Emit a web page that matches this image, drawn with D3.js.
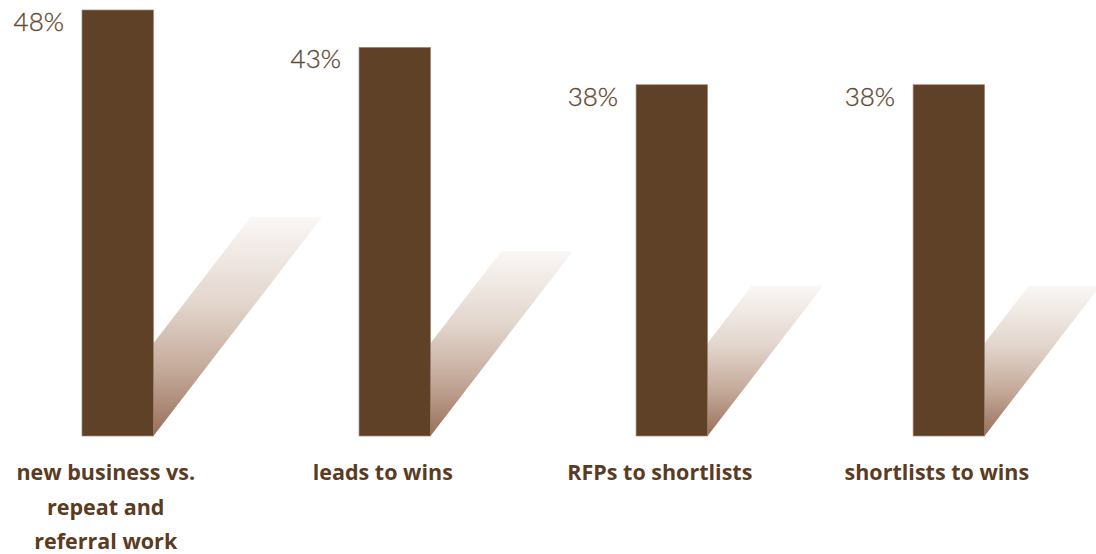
<!DOCTYPE html>
<html>
<head>
<meta charset="utf-8">
<script src="https://cdn.jsdelivr.net/npm/d3@7"></script>
<style>
  html, body { margin: 0; padding: 0; background: #ffffff; }
  svg { display: block; }
</style>
</head>
<body>
<svg id="chart" width="1096" height="554"></svg>
<script>
// Conversion rates by stage
const categories = [
  ["new business vs.", "repeat and", "referral work"],
  ["leads to wins"],
  ["RFPs to shortlists"],
  ["shortlists to wins"]
];
const values = [48, 43, 38, 38];
const valueLabels = ["48%", "43%", "38%", "38%"];

const W = 1096, H = 554;
const svg = d3.select("#chart");

const barColor = "#5e4127";
const valueColor = "#654833";
const catColor = "#5b3b22";

const x = d3.scaleBand()
  .domain(d3.range(values.length))
  .range([82, 984.6])
  .paddingInner(0.742)
  .paddingOuter(0);

const y = d3.scaleLinear()
  .domain([-9, 48])
  .range([436, 10]);

const base = y.range()[0];
const bw = x.bandwidth();
const slant = 0.77;           // horizontal run per vertical px of the cast shadow

// gradient for the cast shadows: warm brown at the foot, fading to white
const defs = svg.append("defs");
const grad = defs.append("linearGradient")
  .attr("id", "shadowGrad")
  .attr("x1", 0).attr("y1", 1).attr("x2", 0).attr("y2", 0);
[
  [0, "#98705a"],
  [0.3, "#c4a999"],
  [0.6, "#e2d5cc"],
  [1, "#faf7f5"]
].forEach(([o, c]) => grad.append("stop").attr("offset", o).attr("stop-color", c));

// cast shadows drawn first so each bar sits on top
svg.append("g").selectAll("path")
  .data(values)
  .join("path")
  .attr("fill", "url(#shadowGrad)")
  .attr("d", (d, i) => {
    const h = base - y(d);
    const sh = 0.92 * h - 173;
    const left = x(i), right = x(i) + bw;
    const top = base - sh;
    return d3.line()([
      [left, base],
      [right, base],
      [right + slant * sh, top],
      [left + slant * sh, top]
    ]) + "Z";
  });

// bars
svg.append("g").selectAll("rect")
  .data(values)
  .join("rect")
  .attr("x", (d, i) => x(i))
  .attr("y", d => y(d))
  .attr("width", bw)
  .attr("height", d => base - y(d))
  .attr("fill", barColor)
  .attr("stroke", "#a48570")
  .attr("stroke-width", 0.7);

// value labels, to the left of each bar top
svg.append("g").selectAll("text")
  .data(values)
  .join("text")
  .attr("x", (d, i) => x(i) - 18)
  .attr("y", d => y(d) + 21)
  .attr("text-anchor", "end")
  .attr("font-family", "Lato, 'Open Sans', sans-serif")
  .attr("font-weight", 300)
  .attr("font-size", 26)
  .attr("fill", valueColor)
  .attr("stroke", valueColor)
  .attr("stroke-width", 0.35)
  .text((d, i) => valueLabels[i]);

// category labels beneath the bars
const cat = svg.append("g").selectAll("text")
  .data(categories)
  .join("text")
  .attr("text-anchor", "middle")
  .attr("font-family", "'Open Sans', Lato, sans-serif")
  .attr("font-weight", 700)
  .attr("font-size", 21.5)
  .attr("fill", catColor)
  .attr("transform", (d, i) => `translate(${x(i) + bw / 2 - 12},480)`);

cat.selectAll("tspan")
  .data(d => d)
  .join("tspan")
  .attr("x", 0)
  .attr("y", (d, j) => j * 34.5)
  .text(d => d);
</script>
</body>
</html>
